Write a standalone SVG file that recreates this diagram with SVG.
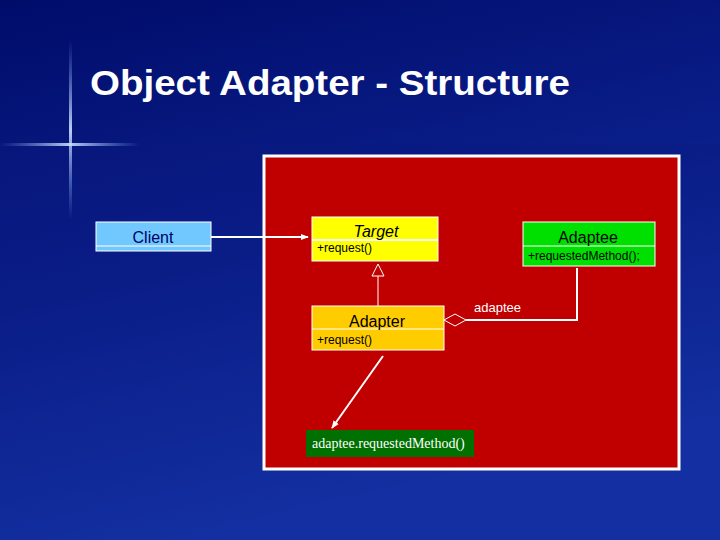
<svg xmlns="http://www.w3.org/2000/svg" width="720" height="540" viewBox="0 0 720 540">
<defs>
<linearGradient id="bg" x1="0" y1="0" x2="0.3" y2="1">
<stop offset="0" stop-color="#000c6a"/><stop offset="0.5" stop-color="#0a1e8a"/><stop offset="1" stop-color="#1a3fb8"/>
</linearGradient>
<linearGradient id="hl" x1="0" y1="0" x2="1" y2="0">
<stop offset="0" stop-color="#7fb0ff" stop-opacity="0"/><stop offset="0.5" stop-color="#cfe0ff" stop-opacity="0.9"/><stop offset="1" stop-color="#7fb0ff" stop-opacity="0"/>
</linearGradient>
<linearGradient id="vl" x1="0" y1="0" x2="0" y2="1">
<stop offset="0" stop-color="#7fb0ff" stop-opacity="0"/><stop offset="0.5" stop-color="#cfe0ff" stop-opacity="0.9"/><stop offset="1" stop-color="#7fb0ff" stop-opacity="0"/>
</linearGradient>
<marker id="arr" viewBox="0 0 10 10" refX="9" refY="5" markerWidth="8" markerHeight="8" orient="auto" markerUnits="userSpaceOnUse"><path d="M0,1 L10,5 L0,9 z" fill="#fff"/></marker>
<style>
.s{font-family:"Liberation Sans",Arial,sans-serif}
.ln{stroke:#fff;stroke-width:2;fill:none}
.op{font-size:12px;fill:#000}
</style>
</defs>
<rect width="720" height="540" fill="url(#bg)"/>
<rect x="0" y="144" width="720" height="400" fill="#0a1a80" opacity="0.4"/>
<rect x="0" y="143" width="140" height="3" fill="url(#hl)"/>
<rect x="69" y="40" width="3" height="180" fill="url(#vl)"/>
<text x="90" y="95" class="s" font-size="35" font-weight="bold" fill="#fff" textLength="480" lengthAdjust="spacingAndGlyphs">Object Adapter - Structure</text>
<rect x="264" y="156" width="415" height="313" fill="#c00000" stroke="#fff" stroke-width="3"/>
<g id="client"><rect x="96" y="222" width="115" height="29" fill="#70c8ff" stroke="#fff"/><line x1="96" y1="246" x2="211" y2="246" stroke="#fff"/><text x="153" y="243" class="s" font-size="16" fill="#000066" text-anchor="middle">Client</text></g>
<g id="target"><rect x="312" y="217" width="126" height="44" fill="#ffff00" stroke="#fff"/><line x1="312" y1="240" x2="438" y2="240" stroke="#fff" stroke-width="2"/><text x="376" y="237" class="s" font-size="16" font-style="italic" text-anchor="middle">Target</text><text x="317" y="252" class="s op">+request()</text></g>
<g id="adaptee"><rect x="523" y="222" width="132" height="44" fill="#00e000" stroke="#fff"/><line x1="523" y1="246" x2="655" y2="246" stroke="#fff"/><text x="588" y="243" class="s" font-size="16" text-anchor="middle">Adaptee</text><text x="528" y="260" class="s op">+requestedMethod();</text></g>
<g id="adapter"><rect x="312" y="306" width="132" height="44" fill="#ffcc00" stroke="#fff"/><line x1="312" y1="329" x2="444" y2="329" stroke="#fff"/><text x="377" y="327" class="s" font-size="16" text-anchor="middle">Adapter</text><text x="317" y="344" class="s op">+request()</text></g>
<g id="note"><rect x="306" y="430" width="168" height="27" fill="#007000"/><text x="312" y="448" font-family="Liberation Serif,serif" font-size="14" fill="#fff">adaptee.requestedMethod()</text></g>
<g id="connectors">
<line class="ln" x1="211" y1="237" x2="308" y2="237" marker-end="url(#arr)"/>
<line x1="378" y1="306" x2="378" y2="276" stroke="#fff" stroke-width="1"/>
<path d="M378,264 L384,276 L372,276 z" fill="none" stroke="#fff"/>
<path class="ln" d="M466,320 H577 V268"/>
<path d="M444,320 L455,314 L466,320 L455,326 z" fill="#c00000" stroke="#fff"/>
<line class="ln" x1="383" y1="356" x2="332" y2="428" marker-end="url(#arr)"/>
<text x="474" y="312" class="s" font-size="13" fill="#fff">adaptee</text>
</g>
</svg>
